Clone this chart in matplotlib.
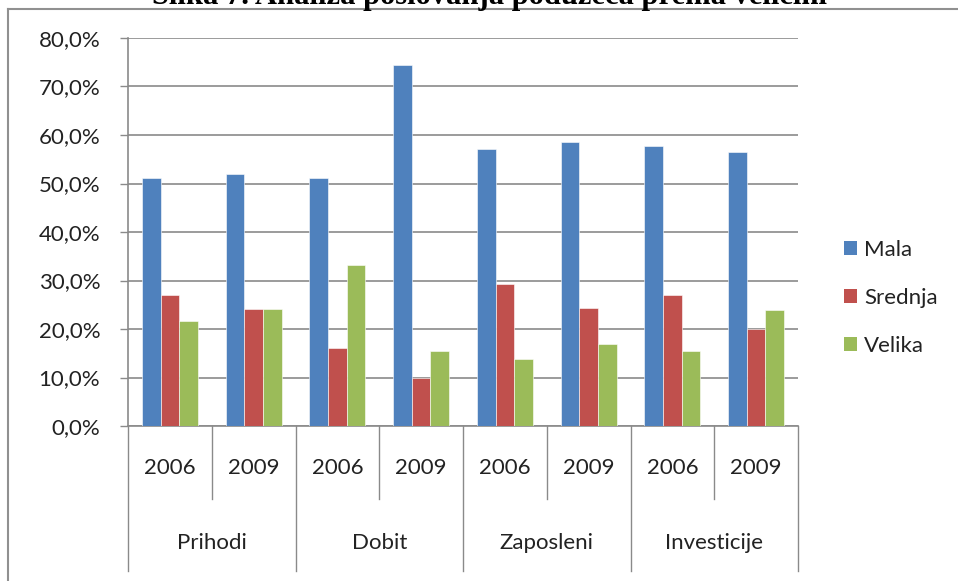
import matplotlib
matplotlib.use("Agg")
import matplotlib.pyplot as plt
from matplotlib.lines import Line2D
from matplotlib.patches import Patch
import numpy as np

plt.rcParams['font.family'] = ['Lato', 'DejaVu Sans']

groups = ["Prihodi", "Dobit", "Zaposleni", "Investicije"]
years = ["2006", "2009"]
series = ["Mala", "Srednja", "Velika"]
mala = [51.2, 52.0, 51.2, 74.5, 57.1, 58.6, 57.8, 56.5]
srednja = [27.1, 24.2, 16.0, 10.0, 29.2, 24.4, 27.1, 20.1]
velika = [21.7, 24.2, 33.1, 15.4, 13.8, 17.0, 15.4, 23.9]
colors = ["#4F81BD", "#C0504D", "#9BBB59"]
title = "Slika 7. Analiza poslovanja poduzeća prema veličini"

W, H = 958, 581
fig = plt.figure(figsize=(W / 100, H / 100), dpi=100)
ax = fig.add_axes([128 / W, 1 - 426 / H, 670 / W, 388 / H])

grid_c = "#8a8a8a"
n = len(mala)
x = np.arange(n)
bw = 0.222
for i, vals in enumerate([mala, srednja, velika]):
    ax.bar(x + (i - 1) * bw, np.array(vals) / 100, bw, color=colors[i],
           edgecolor="white", linewidth=0.4, zorder=3, label=series[i])

ax.set_xlim(-0.5, n - 0.5)
ax.set_ylim(0, 0.8)
ax.set_yticks(np.arange(0, 0.81, 0.1))
ax.set_yticklabels([f"{v:.1f}%".replace(".", ",") for v in np.arange(0, 81, 10)])
ax.yaxis.grid(True, color=grid_c, linewidth=1.2, zorder=0)
ax.tick_params(axis="y", length=6, width=1.0, color=grid_c, labelsize=16,
               pad=14, labelcolor="#222222")
ax.set_xticks([])
for s in ["top", "right"]:
    ax.spines[s].set_visible(False)
for s in ["left", "bottom"]:
    ax.spines[s].set_color(grid_c)
    ax.spines[s].set_linewidth(1.2)

# multi-level category axis
tr = ax.get_xaxis_transform()
for k in range(n + 1):
    depth = -0.374 if k % 2 == 0 else -0.188
    ax.plot([k - 0.5, k - 0.5], [0, depth], color=grid_c, lw=1.0,
            transform=tr, clip_on=False)
for i in range(n):
    ax.text(i, -0.108, years[i % 2], transform=tr, ha="center", va="center",
            fontsize=16, color="#222222")
for g, name in enumerate(groups):
    ax.text(2 * g + 0.5, -0.302, name, transform=tr, ha="center", va="center",
            fontsize=16, color="#222222")

handles = [Patch(facecolor=c) for c in colors]
fig.legend(handles, series, loc="center left", bbox_to_anchor=(824 / W, 1 - 298 / H),
           frameon=False, fontsize=16, handlelength=0.6, handleheight=0.6,
           handletextpad=0.3, labelspacing=1.25, labelcolor="#222222")

# outer chart border
fig.add_artist(Line2D([8 / W, 1], [1 - 9 / H, 1 - 9 / H], color="#909090", lw=1.5))
fig.add_artist(Line2D([8 / W, 8 / W], [0, 1 - 9 / H], color="#909090", lw=1.5))

# title, cut at the top edge like in the source
fig.text(489 / W, 1 - 4 / H, title, ha="center", va="baseline", fontsize=22,
         fontweight="bold", family="Liberation Serif", color="black")

fig.savefig("out.png", dpi=100)
